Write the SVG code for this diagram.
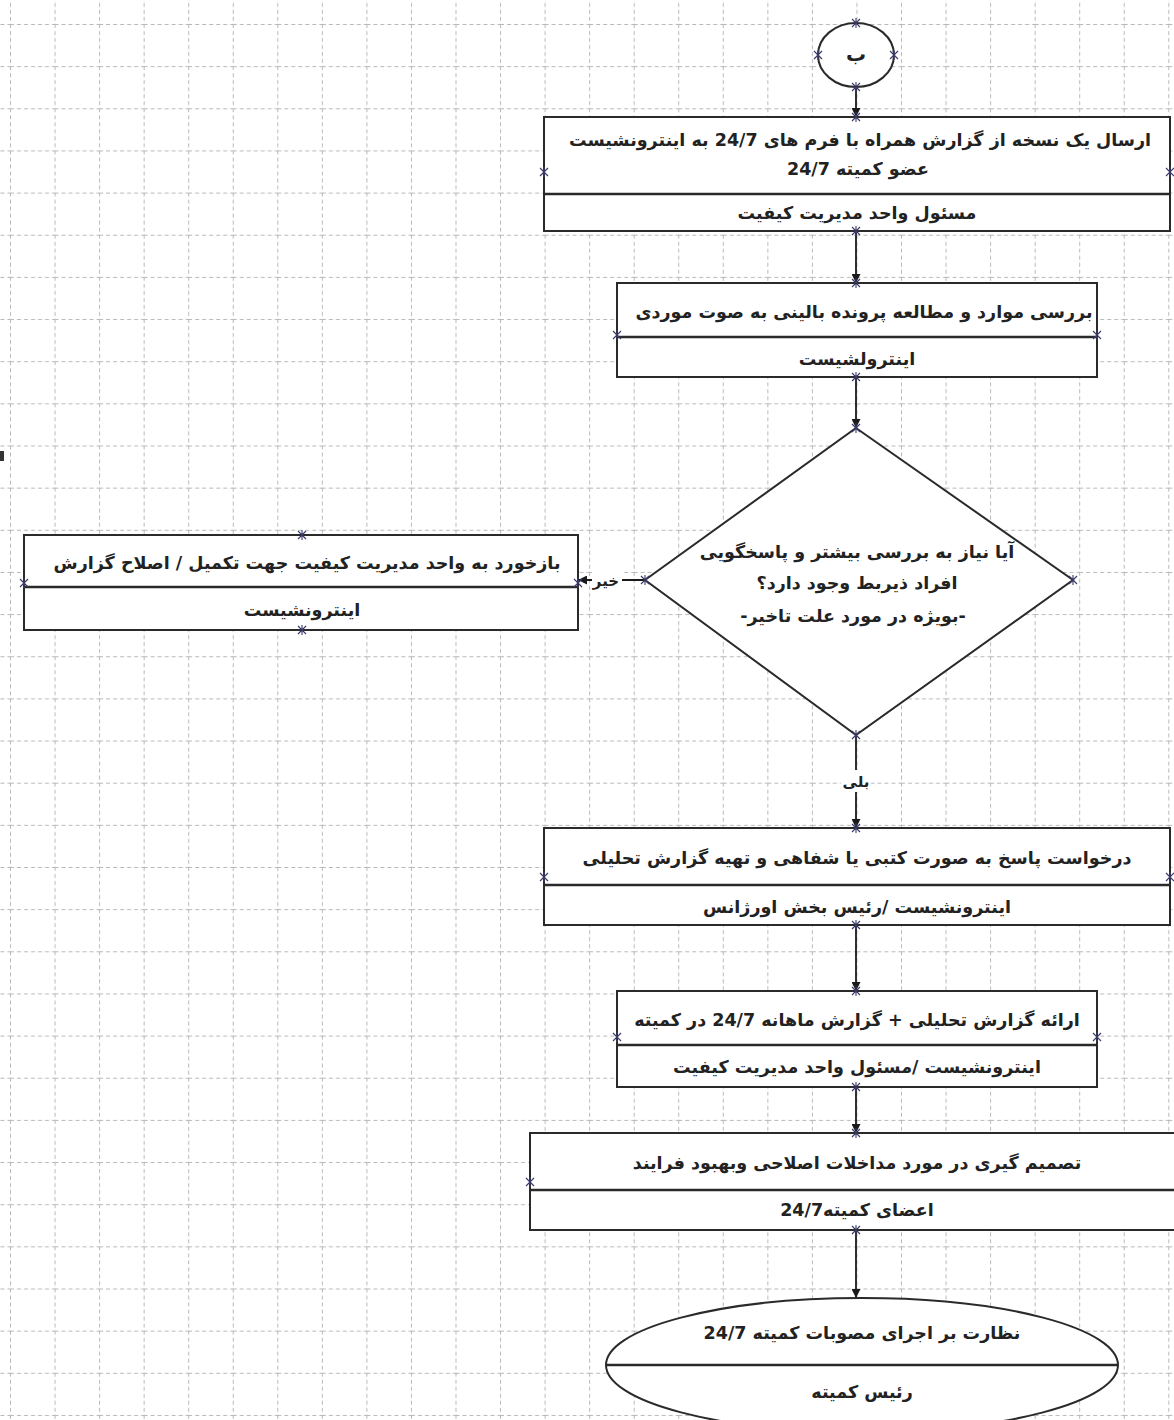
<svg xmlns="http://www.w3.org/2000/svg" width="1174" height="1420" viewBox="0 0 1174 1420">
<style>
.box{fill:#fff;stroke:#2a2a2a;stroke-width:2}
.div{stroke:#2a2a2a;stroke-width:2.5}
.con{stroke:#1a1a1a;stroke-width:1.8;fill:none}
.t{font-family:"DejaVu Sans",sans-serif;font-size:17.5px;font-weight:bold;fill:#222;text-anchor:middle;direction:rtl}
.lbl{font-family:"DejaVu Sans",sans-serif;font-size:15px;font-weight:bold;fill:#222;text-anchor:middle;direction:rtl}
</style>
<defs>
<pattern id="grid" x="10" y="24" width="44.55" height="42.15" patternUnits="userSpaceOnUse">
<path d="M0.5,0V42.15" stroke="#b8b8b8" stroke-width="1" stroke-dasharray="4,3"/>
<path d="M0,0.5H44.55" stroke="#b8b8b8" stroke-width="1" stroke-dasharray="4,3"/>
</pattern>
<marker id="ah" viewBox="0 0 10 10" refX="10" refY="5" markerWidth="9" markerHeight="9" orient="auto" markerUnits="userSpaceOnUse">
<path d="M0,0L10,5L0,10z" fill="#1a1a1a"/>
</marker>
<g id="xm"><path d="M-4,-4L4,4M-4,4L4,-4M0,-5V5" stroke="#3a3a6a" stroke-width="1.1"/></g>
</defs>
<rect width="1174" height="1420" fill="#fff"/>
<rect width="1174" height="1420" fill="url(#grid)"/>
<rect x="0" y="451" width="4" height="10" fill="#333"/>

<g id="connectors">
<path class="con" d="M856,87V117" marker-end="url(#ah)"/>
<path class="con" d="M856,231V283" marker-end="url(#ah)"/>
<path class="con" d="M856,377V428" marker-end="url(#ah)"/>
<path class="con" d="M645,580H578" marker-end="url(#ah)"/>
<path class="con" d="M856,735V828" marker-end="url(#ah)"/>
<path class="con" d="M856,925V991" marker-end="url(#ah)"/>
<path class="con" d="M856,1087V1133" marker-end="url(#ah)"/>
<path class="con" d="M856,1230V1298" marker-end="url(#ah)"/>
<rect x="592" y="571" width="30" height="18" fill="#fff"/>
<text class="lbl" x="606" y="586">خیر</text>
<rect x="841" y="770" width="30" height="22" fill="#fff"/>
<text class="lbl" x="856" y="787">بلی</text>
</g>

<g id="start">
<ellipse cx="856" cy="55" rx="38" ry="32" class="box"/>
<text class="t" x="856" y="61" style="font-size:20px">ب</text>
<use href="#xm" x="856" y="23"/><use href="#xm" x="818" y="55"/><use href="#xm" x="894" y="55"/><use href="#xm" x="856" y="87"/>
</g>

<g id="n1">
<rect x="544" y="117" width="626" height="114" class="box"/>
<line x1="544" y1="194" x2="1170" y2="194" class="div"/>
<text class="t" x="860" y="146">ارسال یک نسخه از گزارش همراه با فرم های 24/7 به اینترونشیست</text>
<text class="t" x="858" y="175">عضو کمیته  24/7</text>
<text class="t" x="857" y="219">مسئول واحد مدیریت کیفیت</text>
<use href="#xm" x="856" y="117"/><use href="#xm" x="544" y="172"/><use href="#xm" x="1170" y="172"/><use href="#xm" x="856" y="231"/>
</g>

<g id="n2">
<rect x="617" y="283" width="480" height="94" class="box"/>
<line x1="617" y1="337" x2="1097" y2="337" class="div"/>
<text class="t" x="864" y="318">بررسی موارد و مطالعه پرونده بالینی به صوت موردی</text>
<text class="t" x="857" y="365">اینترولشیست</text>
<use href="#xm" x="856" y="283"/><use href="#xm" x="617" y="335"/><use href="#xm" x="1097" y="335"/><use href="#xm" x="856" y="377"/>
</g>

<g id="n3">
<path d="M856,428L1073,580L856,735L645,580Z" class="box"/>
<text class="t" x="857" y="558">آیا نیاز به بررسی بیشتر و پاسخگویی</text>
<text class="t" x="857" y="589">افراد ذیربط وجود دارد؟</text>
<text class="t" x="853" y="622">-بویژه در مورد علت تاخیر-</text>
<use href="#xm" x="856" y="428"/><use href="#xm" x="645" y="580"/><use href="#xm" x="1073" y="580"/><use href="#xm" x="856" y="735"/>
</g>

<g id="n4">
<rect x="24" y="535" width="554" height="95" class="box"/>
<line x1="24" y1="587" x2="578" y2="587" class="div"/>
<text class="t" x="307" y="569">بازخورد به واحد مدیریت کیفیت جهت تکمیل / اصلاح گزارش</text>
<text class="t" x="302" y="616">اینترونشیست</text>
<use href="#xm" x="302" y="535"/><use href="#xm" x="24" y="583"/><use href="#xm" x="578" y="583"/><use href="#xm" x="302" y="630"/>
</g>

<g id="n5">
<rect x="544" y="828" width="626" height="97" class="box"/>
<line x1="544" y1="885" x2="1170" y2="885" class="div"/>
<text class="t" x="857" y="864">درخواست پاسخ به صورت کتبی یا شفاهی و تهیه گزارش تحلیلی</text>
<text class="t" x="857" y="913">اینترونشیست /رئیس بخش اورژانس</text>
<use href="#xm" x="856" y="828"/><use href="#xm" x="544" y="877"/><use href="#xm" x="1170" y="877"/><use href="#xm" x="856" y="925"/>
</g>

<g id="n6">
<rect x="617" y="991" width="480" height="96" class="box"/>
<line x1="617" y1="1045" x2="1097" y2="1045" class="div"/>
<text class="t" x="857" y="1026">ارائه گزارش تحلیلی + گزارش ماهانه 24/7 در کمیته</text>
<text class="t" x="857" y="1073">اینترونشیست /مسئول واحد مدیریت کیفیت</text>
<use href="#xm" x="856" y="991"/><use href="#xm" x="617" y="1037"/><use href="#xm" x="1097" y="1037"/><use href="#xm" x="856" y="1087"/>
</g>

<g id="n7">
<rect x="530" y="1133" width="650" height="97" class="box"/>
<line x1="530" y1="1190" x2="1180" y2="1190" class="div"/>
<text class="t" x="857" y="1169">تصمیم گیری در مورد مداخلات اصلاحی وبهبود فرایند</text>
<text class="t" x="857" y="1216">اعضای کمیته24/7</text>
<use href="#xm" x="856" y="1133"/><use href="#xm" x="530" y="1182"/><use href="#xm" x="856" y="1230"/>
</g>

<g id="n8">
<ellipse cx="862" cy="1365" rx="256" ry="67" class="box"/>
<line x1="606" y1="1365" x2="1118" y2="1365" class="div"/>
<text class="t" x="862" y="1339">نظارت بر اجرای مصوبات کمیته 24/7</text>
<text class="t" x="862" y="1398">رئیس کمیته</text>
</g>
</svg>
